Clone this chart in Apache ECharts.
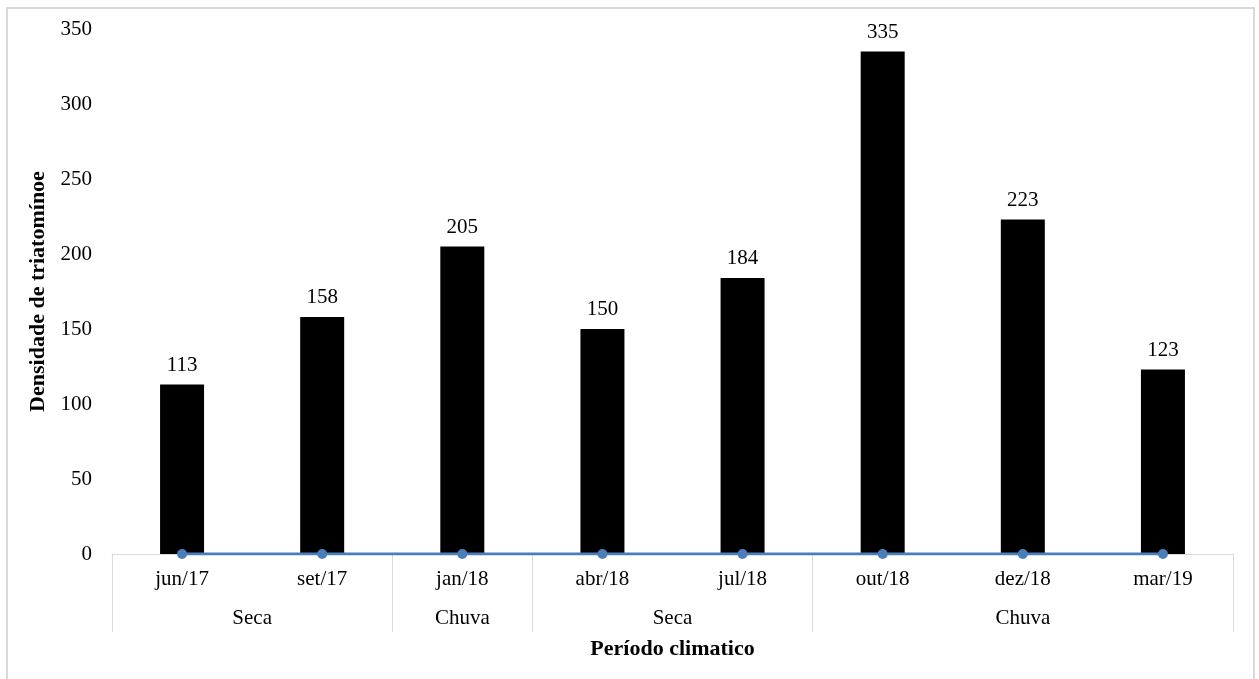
<!DOCTYPE html>
<html>
<head>
<meta charset="utf-8">
<script src="https://cdn.jsdelivr.net/npm/echarts@6/dist/echarts.min.js"></script>
<style>
  html, body { margin: 0; padding: 0; background: #ffffff; }
  #chart { position: absolute; left: 0; top: 0; width: 1259px; height: 679px; }
  #frame { position: absolute; left: 6px; top: 7px; width: 1245px; height: 700px;
           border: 2px solid #d9d9d9; pointer-events: none; }
</style>
</head>
<body>
<div id="chart"></div>
<div id="frame"></div>
<script>
// Collection dates and triatomine counts
const months = ['jun/17', 'set/17', 'jan/18', 'abr/18', 'jul/18', 'out/18', 'dez/18', 'mar/19'];
const density = [113, 158, 205, 150, 184, 335, 223, 123];
const baseline = [0, 0, 0, 0, 0, 0, 0, 0];

// Climatic periods: label and number of months covered
const periodNames = ['Seca', 'Chuva', 'Seca', 'Chuva'];
const periodSpans = [2, 1, 2, 3];

const yTicks = [0, 50, 100, 150, 200, 250, 300, 350];

// Period boundaries and centers on a 0..N scale
const bounds = [0];
periodSpans.forEach(s => bounds.push(bounds[bounds.length - 1] + s));
const centers = periodSpans.map((s, i) => bounds[i] + s / 2);

const serif = '"Liberation Serif", "Times New Roman", serif';
const labelSize = 21;
const titleSize = 22;

const chart = echarts.init(document.getElementById('chart'), null, { renderer: 'canvas' });
chart.setOption({
  animation: false,
  backgroundColor: '#ffffff',
  grid: { left: 112, right: 26, top: 29, bottom: 125, containLabel: false },
  xAxis: [
    {
      type: 'category',
      data: months,
      position: 'bottom',
      axisLine: { show: false },
      axisTick: { show: false },
      axisLabel: { color: '#000', fontFamily: serif, fontSize: labelSize, margin: 15 }
    },
    {
      type: 'value',
      min: 0,
      max: months.length,
      position: 'bottom',
      name: 'Período climatico',
      nameLocation: 'middle',
      nameGap: 84,
      nameTextStyle: { color: '#000', fontFamily: serif, fontSize: titleSize, fontWeight: 'bold' },
      splitLine: { show: false },
      axisLine: { show: true, lineStyle: { color: '#d9d9d9', width: 1 } },
      axisTick: {
        show: true, length: 78, inside: false,
        customValues: bounds,
        lineStyle: { color: '#d9d9d9', width: 1 }
      },
      axisLabel: {
        customValues: centers,
        margin: 54,
        color: '#000', fontFamily: serif, fontSize: labelSize,
        formatter: v => {
          const i = centers.indexOf(v);
          return i >= 0 ? periodNames[i] : '';
        }
      }
    }
  ],
  yAxis: {
    type: 'value',
    min: yTicks[0],
    max: yTicks[yTicks.length - 1],
    interval: 50,
    name: 'Densidade de triatomínoe',
    nameLocation: 'middle',
    nameGap: 53,
    nameTextStyle: { color: '#000', fontFamily: serif, fontSize: titleSize, fontWeight: 'bold' },
    axisLine: { show: false },
    axisTick: { show: false },
    splitLine: { show: false },
    axisLabel: { color: '#000', fontFamily: serif, fontSize: labelSize, margin: 20 }
  },
  series: [
    {
      type: 'bar',
      xAxisIndex: 0,
      data: density,
      barWidth: 44,
      itemStyle: { color: '#000000' },
      label: {
        show: true, position: 'top', distance: 9,
        color: '#000', fontFamily: serif, fontSize: labelSize
      }
    },
    {
      type: 'line',
      xAxisIndex: 0,
      data: baseline,
      symbol: 'circle',
      symbolSize: 10,
      lineStyle: { color: '#4a7ebb', width: 3 },
      itemStyle: { color: '#4a7ebb' },
      z: 3
    }
  ]
});
</script>
</body>
</html>
